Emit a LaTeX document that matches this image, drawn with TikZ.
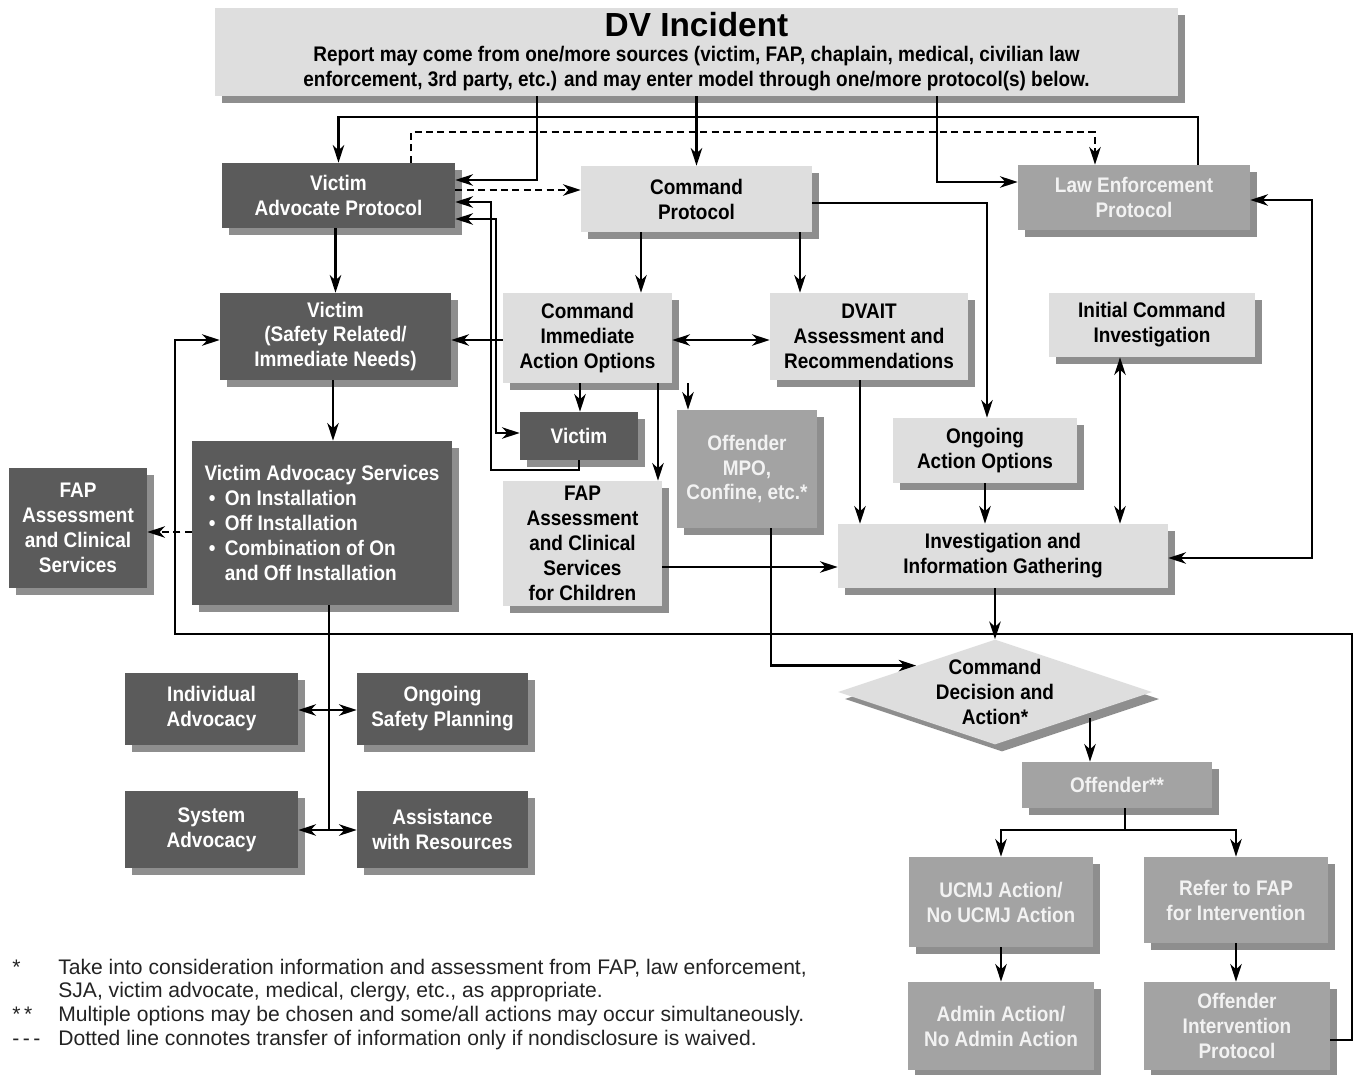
\documentclass[tikz,border=0pt]{standalone}
\usepackage{fontspec}
\setmainfont{Liberation Sans}[FakeStretch=0.9]
\newfontfamily\titlefont{Liberation Sans}
\usepackage{xcolor}
\usepackage{tikz}
\usetikzlibrary{shapes.geometric, arrows.meta, shadows}

\definecolor{boxdark}{RGB}{91,91,91}
\definecolor{boxlight}{RGB}{222,222,222}
\definecolor{boxmid}{RGB}{163,163,163}
\definecolor{boxshadow}{RGB}{142,142,142}
\definecolor{notetext}{RGB}{35,35,35}

\begin{document}
\begin{tikzpicture}[x=0.02cm, y=-0.02cm,
    every node/.style={font=\bfseries\fontsize{12}{14.2}\selectfont, align=center, inner sep=0pt},
    shade/.style={drop shadow={shadow xshift=0.14cm, shadow yshift=-0.14cm, fill=boxshadow, opacity=1}},
    darkbox/.style={rectangle, fill=boxdark, text=white, shade},
    lightbox/.style={rectangle, fill=boxlight, text=black, shade},
    midbox/.style={rectangle, fill=boxmid, text=white!95!black, shade},
    line/.style={draw, line width=1.3pt, -{Stealth[length=10pt, width=6.5pt, inset=3pt]}},
    bline/.style={draw, line width=1.3pt, {Stealth[length=10pt, width=6.5pt, inset=3pt]}-{Stealth[length=10pt, width=6.5pt, inset=3pt]}},
    dline/.style={line, dash pattern=on 4pt off 2.5pt}]

    \useasboundingbox (0,0) rectangle (1354,1074);

    % top
    \node [lightbox, minimum width=19.26cm, minimum height=1.76cm] (dv) at (696.5,52)
        {{\titlefont\fontsize{19}{20}\selectfont DV Incident}\\
         Report may come from one/more sources (victim, FAP, chaplain, medical, civilian law\\
         enforcement, 3rd party, etc.) and may enter model through one/more protocol(s) below.};

    % protocols
    \node [darkbox, minimum width=4.66cm, minimum height=1.30cm] (vap) at (338.5,195.5) {Victim\\Advocate Protocol};
    \node [lightbox, minimum width=4.62cm, minimum height=1.32cm] (cmdp) at (696.5,199) {Command\\Protocol};
    \node [midbox, minimum width=4.64cm, minimum height=1.30cm] (lep) at (1134,197.5) {Law Enforcement\\Protocol};

    % second row
    \node [darkbox, minimum width=4.62cm, minimum height=1.74cm] (vsr) at (335.5,336.5) {Victim\\(Safety Related/\\Immediate Needs)};
    \node [lightbox, minimum width=3.38cm, minimum height=1.80cm] (ciao) at (587.5,338) {Command\\Immediate\\Action Options};
    \node [lightbox, minimum width=3.96cm, minimum height=1.74cm] (dvait) at (869,336.5) {DVAIT\\Assessment and\\Recommendations};
    \node [lightbox, minimum width=4.12cm, minimum height=1.28cm] (ici) at (1152,325) {Initial Command\\Investigation};

    % third row
    \node [darkbox, minimum width=2.36cm, minimum height=0.96cm] (vsm) at (579,436) {Victim};
    \node [midbox, minimum width=2.80cm, minimum height=2.36cm] (offm) at (747,469) {Offender\\MPO,\\Confine, etc.*};
    \node [lightbox, minimum width=3.68cm, minimum height=1.30cm] (oao) at (985,450.5) {Ongoing\\Action Options};
    \node [darkbox, minimum width=5.20cm, minimum height=3.28cm, align=left] (vas) at (322,523)
        {Victim Advocacy Services\\
         \hspace*{0.2em}\textbullet\hspace{0.45em}On Installation\\
         \hspace*{0.2em}\textbullet\hspace{0.45em}Off Installation\\
         \hspace*{0.2em}\textbullet\hspace{0.45em}Combination of On\\
         \hspace*{0.2em}\hphantom{\textbullet}\hspace{0.45em}and Off Installation};
    \node [darkbox, minimum width=2.76cm, minimum height=2.40cm] (fapl) at (78,528) {FAP\\Assessment\\and Clinical\\Services};
    \node [lightbox, minimum width=3.18cm, minimum height=2.50cm] (fapc) at (582.5,543.5) {FAP\\Assessment\\and Clinical\\Services\\for Children};
    \node [lightbox, minimum width=6.60cm, minimum height=1.28cm] (inv) at (1003,556) {Investigation and\\Information Gathering};
    \node [lightbox, diamond, aspect=3, minimum width=6.28cm, minimum height=2.10cm] (dec) at (995,692) {Command\\Decision and\\Action*};

    % advocacy
    \node [darkbox, minimum width=3.46cm, minimum height=1.44cm] (ia) at (211.5,709) {Individual\\Advocacy};
    \node [darkbox, minimum width=3.42cm, minimum height=1.44cm] (osp) at (442.5,709) {Ongoing\\Safety Planning};
    \node [darkbox, minimum width=3.46cm, minimum height=1.54cm] (sa) at (211.5,829.5) {System\\Advocacy};
    \node [darkbox, minimum width=3.42cm, minimum height=1.54cm] (awr) at (442.5,829.5) {Assistance\\with Resources};

    % offender
    \node [midbox, minimum width=3.80cm, minimum height=0.92cm] (off2) at (1117,785) {Offender**};
    \node [midbox, minimum width=3.68cm, minimum height=1.80cm] (ucmj) at (1001,902) {UCMJ Action/\\No UCMJ Action};
    \node [midbox, minimum width=3.68cm, minimum height=1.72cm] (ref) at (1236,900) {Refer to FAP\\for Intervention};
    \node [midbox, minimum width=3.72cm, minimum height=1.76cm] (adm) at (1001,1026) {Admin Action/\\No Admin Action};
    \node [midbox, minimum width=3.72cm, minimum height=1.76cm] (oip) at (1237,1026) {Offender\\Intervention\\Protocol};

    % notes
    \node [anchor=base west, align=left, text=notetext, font=\titlefont\mdseries\fontsize{12}{13.6}\selectfont] (notes) at (12,974)
        {\begin{tabular}[t]{@{}p{0.92cm}@{}l@{}}
         {*} & Take into consideration information and assessment from FAP, law enforcement,\\
             & SJA, victim advocate, medical, clergy, etc., as appropriate.\\
         {*\,*} & Multiple options may be chosen and some/all actions may occur simultaneously.\\
         {-\,-\,-} & Dotted line connotes transfer of information only if nondisclosure is waived.
         \end{tabular}};

    % from incident
    \path [line] (dv.south -| 537,0) |- (vap.east |- 0,180);
    \path [line] (dv.south -| cmdp.north) -- (cmdp.north);
    \path [line] (dv.south -| 937,0) |- (lep.west |- 0,182);
    \path [line] (lep.north -| 1198,0) |- (vap.north |- 0,117) -- (vap.north);
    \path [dline] (vap.north -| 411,0) |- (1095,132) -- (lep.north -| 1095,0);
    \path [dline] (vap.east |- 0,190) -- (cmdp.west |- 0,190);

    % victim side
    \path [line] (vsm.south) |- (491,470) |- (vap.east |- 0,202);
    \path [bline] (vap.east |- 0,219) -| (496,433) -- (vsm.west |- 0,433);
    \path [line] (vap.south -| vsr.north) -- (vsr.north);
    \path [line] (vsr.south -| 333,0) -- (vas.north -| 333,0);
    \path [line] (ciao.west |- 0,340) -- (vsr.east |- 0,340);
    \path [line] (oip.east |- 0,1040) -| (1352,634) -| (175,340) -- (vsr.west |- 0,340);
    \path [dline] (vas.west |- 0,532) -- (fapl.east |- 0,532);
    \draw [line width=1.3pt] (vas.south -| 329,0) -- (329,830);
    \path [bline] (ia.east |- 0,710) -- (osp.west |- 0,710);
    \path [bline] (sa.east |- 0,830) -- (awr.west |- 0,830);

    % command side
    \path [line] (cmdp.south -| 641,0) -- (ciao.north -| 641,0);
    \path [line] (cmdp.south -| 800,0) -- (dvait.north -| 800,0);
    \path [bline] (ciao.east |- 0,340) -- (dvait.west |- 0,340);
    \path [line] (cmdp.east |- 0,203) -| (oao.north -| 987,0);
    \path [line] (ciao.south -| 580,0) -- (vsm.north -| 580,0);
    \path [line] (ciao.south -| 658,0) -- (fapc.north -| 658,0);
    \path [line] (ciao.south -| 688,0) -- (offm.north -| 688,0);
    \path [line] (fapc.east |- 0,567) -- (inv.west |- 0,567);
    \path [line] (offm.south -| 771,0) |- (dec.north west);
    \path [line] (dvait.south -| 860,0) -- (inv.north -| 860,0);
    \path [line] (oao.south) -- (inv.north -| oao.south);
    \path [bline] (ici.south -| 1120,0) -- (inv.north -| 1120,0);
    \path [bline] (lep.east |- 0,200) -| (1312,558) -- (inv.east |- 0,558);
    \path [line] (inv.south -| dec.north) -- (dec.north);

    % decision
    \coordinate (split) at (1125,830);
    \path [line] (dec.south east -| 1090,0) -- (off2.north -| 1090,0);
    \draw [line width=1.3pt] (off2.south -| split) -- (split);
    \path [line] (split) -| (ucmj.north);
    \path [line] (split) -| (ref.north);
    \path [line] (ucmj.south) -- (adm.north);
    \path [line] (ref.south) -- (oip.north -| ref.south);
\end{tikzpicture}
\end{document}
